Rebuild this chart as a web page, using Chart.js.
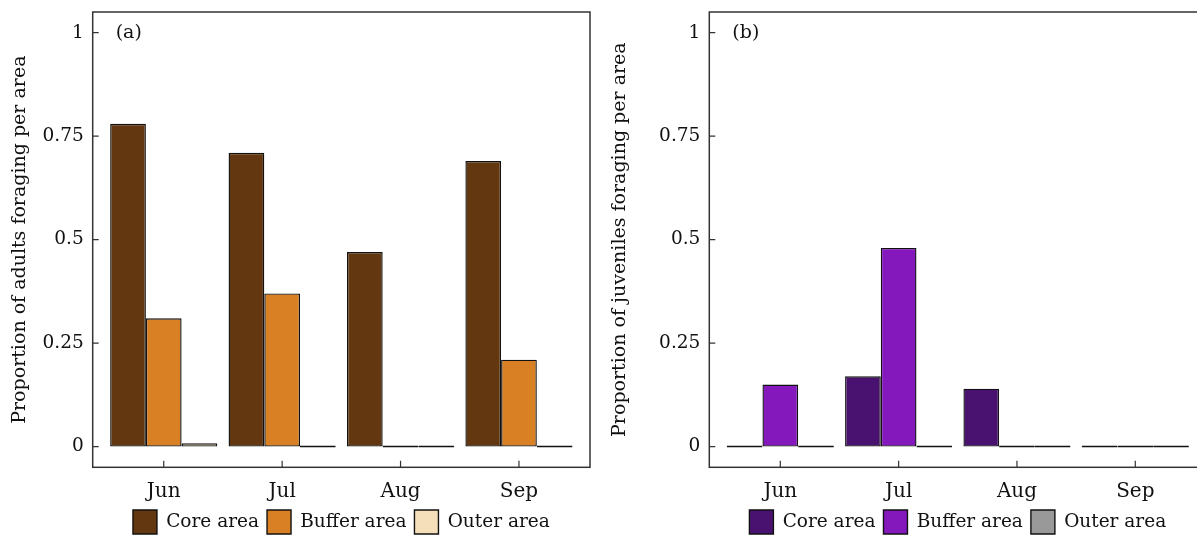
<!DOCTYPE html>
<html><head><meta charset="utf-8">
<script src="https://cdn.jsdelivr.net/npm/chart.js@4.4.1/dist/chart.umd.min.js"></script>
<style>
html,body{margin:0;padding:0;background:#fff;overflow:hidden;width:1197px;height:538px;position:relative;}
#ca{position:absolute;left:0;top:0;}
#cb{position:absolute;left:600px;top:0;}
</style></head><body>
<canvas id="ca" width="600" height="544"></canvas>
<canvas id="cb" width="617" height="544"></canvas>
<script>
const months = ['Jun', 'Jul', 'Aug', 'Sep'];
const areaNames = ['Core area', 'Buffer area', 'Outer area'];
const yTicks = [0, 0.25, 0.5, 0.75, 1];
const adultCore = [0.78, 0.71, 0.47, 0.69];
const adultBuffer = [0.31, 0.37, 0, 0.21];
const adultOuter = [0.008, 0, 0, 0];
const juvCore = [0, 0.17, 0.14, 0];
const juvBuffer = [0.15, 0.48, 0, 0];
const juvOuter = [0, 0, 0, 0];
const adultColors = ['#633811', '#D98024', '#F5DFBA'];
const juvColors = ['#4A1270', '#8418BC', '#999999'];

const FONT = 'DejaVu Serif';
const TXT = '#111';

const framePlugin = {
  id: 'frame',
  afterDraw(chart, args, opts) {
    const {ctx, chartArea: {left, right, top, bottom}, scales: {x, y}} = chart;
    ctx.save();
    ctx.strokeStyle = '#333';
    ctx.lineWidth = 1.5;
    ctx.strokeRect(left, top, right - left, bottom - top);
    ctx.lineWidth = 1.2;
    ctx.beginPath();
    yTicks.forEach(v => { const py = y.getPixelForValue(v); ctx.moveTo(left, py); ctx.lineTo(left + 6, py); });
    months.forEach((m, i) => { const px = x.getPixelForValue(i); ctx.moveTo(px, bottom); ctx.lineTo(px, bottom - 6.5); });
    ctx.stroke();
    ctx.fillStyle = TXT;
    ctx.font = '19px "' + FONT + '"';
    ctx.textBaseline = 'middle';
    ctx.textAlign = 'left';
    ctx.fillText(opts.label, left + 23, y.getPixelForValue(1));
    ctx.restore();
  }
};

function makeChart(id, series, colors, yTitle, label, yWidth, rightPad) {
  const datasets = series.map((vals, k) => ({
    label: areaNames[k],
    data: vals.map((v, i) => ({x: i, y: v})),
    backgroundColor: colors[k],
    borderColor: '#111',
    borderWidth: 1.4,
    borderSkipped: false,
    minBarLength: 2,
    categoryPercentage: 0.905,
    barPercentage: 1
  }));
  return new Chart(document.getElementById(id), {
    type: 'bar',
    data: {datasets},
    plugins: [framePlugin],
    options: {
      responsive: false,
      animation: false,
      layout: {padding: {top: 12, right: rightPad, left: 0, bottom: 0}},
      scales: {
        x: {
          type: 'linear', min: -0.6, max: 3.6, offset: false,
          grid: {display: false, drawTicks: false},
          border: {display: false},
          afterBuildTicks: s => { s.ticks = months.map((m, i) => ({value: i})); },
          afterFit: s => { s.height = 34.7; s.paddingLeft = 0; s.paddingRight = 0; },
          ticks: {callback: v => months[v] ?? '', padding: 12, color: TXT, maxRotation: 0, autoSkip: false,
                  font: {family: FONT, size: 20}}
        },
        y: {
          min: -0.05, max: 1.05,
          grid: {display: false, drawTicks: false},
          border: {display: false},
          afterBuildTicks: s => { s.ticks = yTicks.map(v => ({value: v})); },
          afterFit: s => { s.width = yWidth; s.paddingTop = 0; s.paddingBottom = 0; },
          ticks: {callback: v => String(v), padding: 9, color: TXT, font: {family: FONT, size: 18.5}},
          title: {display: true, text: yTitle, color: TXT, font: {family: FONT, size: 19}, padding: {top: 9, bottom: 0}}
        }
      },
      plugins: {
        frame: {label},
        tooltip: {enabled: false},
        legend: {
          position: 'bottom', fullSize: false,
          labels: {boxWidth: 24, boxHeight: 24, padding: 8, color: TXT, font: {family: FONT, size: 18.5}}
        }
      }
    }
  });
}

makeChart('ca', [adultCore, adultBuffer, adultOuter], adultColors,
  'Proportion of adults foraging per area', '(a)', 92.7, 10);
makeChart('cb', [juvCore, juvBuffer, juvOuter], juvColors,
  'Proportion of juveniles foraging per area', '(b)', 109.3, 10.7);
</script>
</body></html>
